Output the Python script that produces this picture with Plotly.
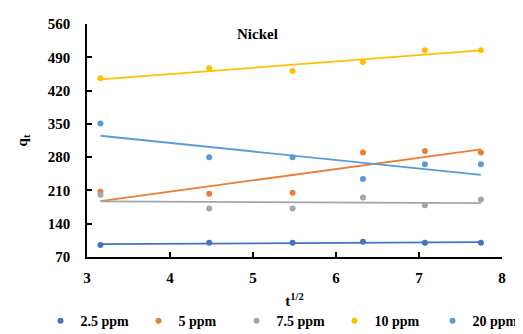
import numpy as np
import plotly.graph_objects as go

x_vals = [3.162, 4.472, 5.477, 6.325, 7.071, 7.746]
series_names = ["2.5 ppm", "5 ppm", "7.5 ppm", "10 ppm", "20 ppm"]
q_25 = [95, 100, 100, 102, 100, 100]
q_5 = [207, 203, 205, 290, 293, 290]
q_75 = [201, 172, 172, 195, 179, 191]
q_10 = [446, 467, 461, 480, 505, 505]
q_20 = [351, 280, 280, 234, 265, 265]
colors = ["#4472C4", "#ED7D31", "#A5A5A5", "#FFC000", "#5B9BD5"]
y_ticks = [70, 140, 210, 280, 350, 420, 490, 560]
x_ticks = [3, 4, 5, 6, 7, 8]

series = [q_25, q_5, q_75, q_10, q_20]
font_family = "Liberation Serif, Times New Roman, serif"

fig = go.Figure()
xs = np.array(x_vals)
for name, ys, c in zip(series_names, series, colors):
    slope, inter = np.polyfit(xs, np.array(ys, dtype=float), 1)
    xl = [xs.min(), xs.max()]
    fig.add_trace(go.Scatter(x=xl, y=[slope * v + inter for v in xl], mode="lines",
                             line=dict(color=c, width=1.8), showlegend=False, hoverinfo="skip"))
for name, ys, c in zip(series_names, series, colors):
    fig.add_trace(go.Scatter(x=x_vals, y=ys, mode="markers", name=name,
                             marker=dict(color=c, size=6)))

fig.update_layout(
    width=523, height=334,
    margin=dict(l=79, r=29, t=16, b=85, autoexpand=False),
    paper_bgcolor="white", plot_bgcolor="white",
    font=dict(family=font_family, size=13, color="black"),
    showlegend=True,
    legend=dict(orientation="h", xref="paper", yref="paper",
                x=-0.112, xanchor="left", y=-0.275, yanchor="middle",
                font=dict(family=font_family, size=14, color="black", weight="bold"),
                entrywidth=53, entrywidthmode="pixels", itemwidth=30, tracegroupgap=0,
                bgcolor="rgba(0,0,0,0)"),
    annotations=[dict(text="<b>Nickel</b>", x=0.412, y=0.957, xref="paper", yref="paper",
                      showarrow=False, xanchor="center", yanchor="middle",
                      font=dict(family=font_family, size=15, color="black"))],
)
fig.update_xaxes(range=[3, 8], tickvals=x_ticks, showgrid=False, zeroline=False,
                 showline=True, linecolor="black", linewidth=1.5,
                 ticks="inside", ticklen=5, tickcolor="black", tickwidth=1.5,
                 ticklabelstandoff=6,
                 tickfont=dict(family=font_family, size=15, color="black", weight="bold"),
                 title=dict(text="<b>t<sup>1/2</sup></b>", standoff=11,
                            font=dict(family=font_family, size=15, color="black")))
fig.update_yaxes(range=[70, 560], tickvals=y_ticks, showgrid=False, zeroline=False,
                 showline=True, linecolor="black", linewidth=1.5,
                 ticks="inside", ticklen=5, tickcolor="black", tickwidth=1.5,
                 ticklabelstandoff=12,
                 tickfont=dict(family=font_family, size=15, color="black", weight="bold"),
                 title=dict(text="<b>q<sub>t</sub></b>", standoff=17,
                            font=dict(family=font_family, size=15, color="black")))

fig.write_html("out.html")
